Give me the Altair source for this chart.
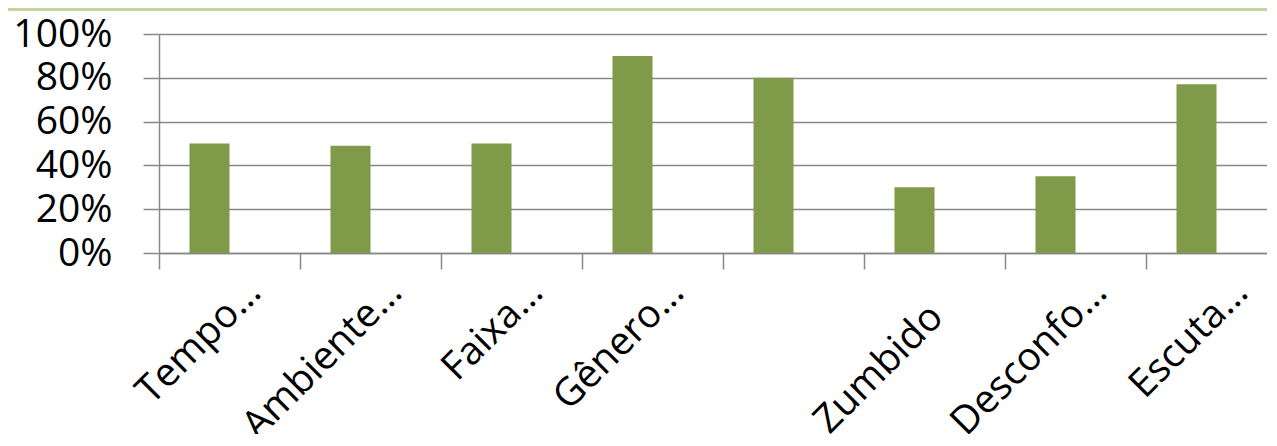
import altair as alt
import pandas as pd

categories = ["Tempo…", "Ambiente…", "Faixa…", "Gênero…", " ", "Zumbido", "Desconfo…", "Escuta…"]
values = [0.50, 0.49, 0.50, 0.90, 0.80, 0.30, 0.35, 0.77]
y_ticks = [0, 0.2, 0.4, 0.6, 0.8, 1.0]

df = pd.DataFrame({"cat": categories, "val": values})

FONT = "Open Sans"
GRAY = "#888888"

x_enc = alt.X(
    "cat:N",
    sort=None,
    title=None,
    scale=alt.Scale(range=[0, 1128], paddingInner=0, paddingOuter=0),
    axis=alt.Axis(
        labelAngle=-45,
        labelAlign="right",
        labelBaseline="alphabetic",
        labelFont=FONT,
        labelFontSize=39,
        labelColor="#000000",
        labelPadding={"condition": {"test": "datum.value === 'Zumbido'", "value": 50}, "value": 25},
        labelOffset={"condition": {"test": "datum.value === 'Zumbido'", "value": 10}, "value": 33},
        labelLimit=600,
        tickBand="extent",
        tickSize=16,
        tickColor=GRAY,
        tickWidth=1.5,
        domainColor=GRAY,
        domainWidth=1.5,
        grid=False,
        labelOverlap=False,
    ),
)

y_enc = alt.Y(
    "val:Q",
    title=None,
    scale=alt.Scale(domain=[0, 1], nice=False, zero=True),
    axis=alt.Axis(
        values=y_ticks,
        format=".0%",
        labelFont=FONT,
        labelFontSize=39,
        labelColor="#000000",
        labelPadding=31,
        tickSize=16,
        tickColor=GRAY,
        tickWidth=1.5,
        domainColor=GRAY,
        domainWidth=1.5,
        grid=True,
        gridColor=GRAY,
        gridWidth=1.5,
    ),
)

bars = alt.Chart(df).mark_bar(width=40, xOffset=-20, color="#7f9a48").encode(
    x=x_enc, y=y_enc
)

top_line = alt.Chart(df).mark_rule(color="#c3d69b", strokeWidth=3).encode(
    x=alt.value(-160), x2=alt.value(1200), y=alt.value(-24.5)
)

chart = (
    alt.layer(bars, top_line)
    .properties(
        width=1108,
        height=219,
        autosize=alt.AutoSizeParams(type="none"),
        padding={"left": 151, "top": 26, "right": 0, "bottom": 181},
    )
    .configure_view(stroke=None)
    .configure(background="#ffffff")
)

chart.save("out.html", embed_options={"renderer": "svg", "actions": False})
